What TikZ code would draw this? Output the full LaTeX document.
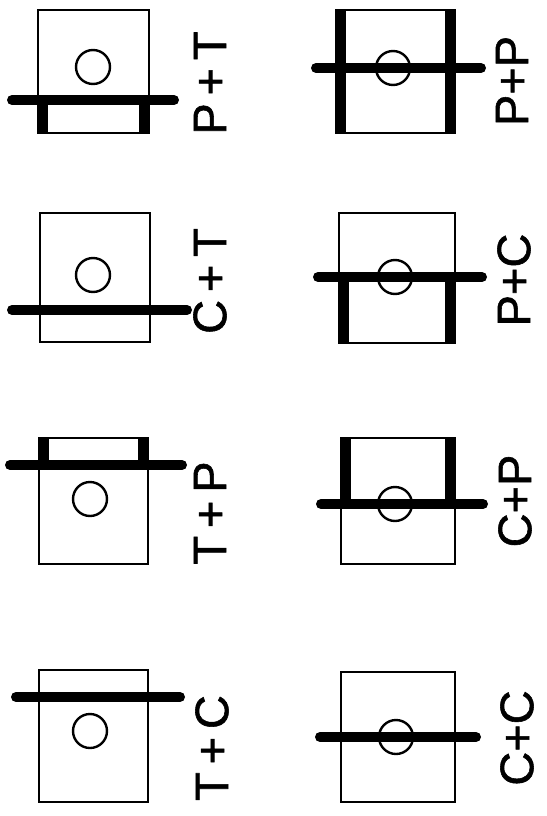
\documentclass[tikz,border=0pt]{standalone}
\usepackage{fontspec}
\setmainfont{Liberation Sans}
\newfontfamily\labfont{Liberation Sans}[FakeBold=1.2]
\begin{document}
\begin{tikzpicture}[x=1pt,y=-1pt,
  frame/.style={draw,line width=2.4pt},
  ring/.style={draw,line width=2.4pt},
  bar/.style={line width=10pt,line cap=round},
  side/.style={fill=black},
  lab/.style={rotate=90,inner sep=0pt,font=\labfont\fontsize{47}{47}\selectfont}]
\useasboundingbox (0,0) rectangle (546,816);
% P+T
\draw[frame] (38,10) rectangle (149,133);
\fill[side] (38,100) rectangle (48,133);
\fill[side] (139,100) rectangle (149,133);
\draw[ring] (93,67) circle (17);
\draw[bar] (12,100) -- (174,100);
\node[lab] (l1) at (210,83) {P\,+\,T};
% P+P
\draw[frame] (336,10) rectangle (455,133);
\fill[side] (336,10) rectangle (346,133);
\fill[side] (445,10) rectangle (455,133);
\draw[ring] (393,68) circle (17);
\draw[bar] (316,68) -- (481,68);
\node[lab] (l2) at (512,81) {P+P};
% C+T
\draw[frame] (40,213) rectangle (150,342);
\draw[ring] (93,275) circle (17);
\draw[bar] (12,310) -- (187,310);
\node[lab] (l3) at (210,281) {C\,+\,T};
% P+C
\draw[frame] (339,213) rectangle (455,343);
\fill[side] (339,277) rectangle (349,343);
\fill[side] (445,277) rectangle (455,343);
\draw[ring] (395,277) circle (17);
\draw[bar] (318,277) -- (482,277);
\node[lab] (l4) at (514,280) {P+C};
% T+P
\draw[frame] (39,438) rectangle (148,564);
\fill[side] (39,438) rectangle (49,465);
\fill[side] (138,438) rectangle (148,465);
\draw[ring] (90,499) circle (17);
\draw[bar] (10,465) -- (182,465);
\node[lab] (l5) at (210,513) {T\,+\,P};
% C+P
\draw[frame] (341,438) rectangle (455,564);
\fill[side] (341,438) rectangle (351,504);
\fill[side] (445,438) rectangle (455,504);
\draw[ring] (395,504) circle (17);
\draw[bar] (321,504) -- (483,504);
\node[lab] (l6) at (515,501) {C+P};
% T+C
\draw[frame] (39,670) rectangle (148,802);
\draw[ring] (90,731) circle (17);
\draw[bar] (16,697) -- (180,697);
\node[lab] (l7) at (212,748) {T\,+\,C};
% C+C
\draw[frame] (341,672) rectangle (455,802);
\draw[ring] (396,737) circle (17);
\draw[bar] (320,737) -- (476,737);
\node[lab] (l8) at (517,738) {C+C};
\end{tikzpicture}
\end{document}
